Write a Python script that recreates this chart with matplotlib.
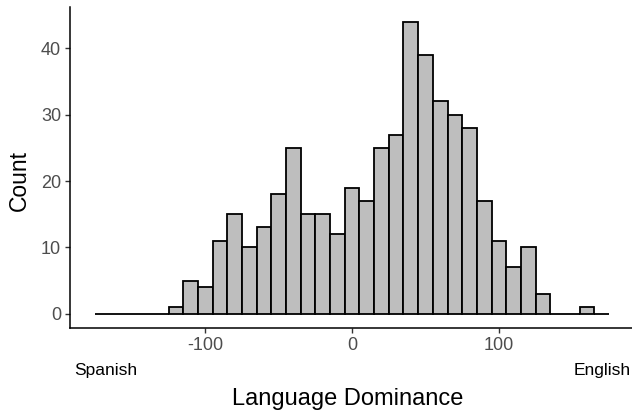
import matplotlib
matplotlib.use("Agg")
import matplotlib.pyplot as plt

plt.rcParams['font.family'] = ['Liberation Sans', 'DejaVu Sans']
plt.rcParams['axes.unicode_minus'] = False

# histogram bins (left edges, width 10) and counts
bin_left = [-175, -165, -155, -145, -135, -125, -115, -105, -95, -85,
            -75, -65, -55, -45, -35, -25, -15, -5, 5, 15,
            25, 35, 45, 55, 65, 75, 85, 95, 105, 115,
            125, 135, 145, 155, 165]
counts = [0, 0, 0, 0, 0, 1, 5, 4, 11, 15,
          10, 13, 18, 25, 15, 15, 12, 19, 17, 25,
          27, 44, 39, 32, 30, 28, 17, 11, 7, 10,
          3, 0, 0, 1, 0]
bin_width = 10
x_ticks = [-100, 0, 100]
y_ticks = [0, 10, 20, 30, 40]

W, H = 632, 415
fig = plt.figure(figsize=(W / 100, H / 100), dpi=100)
ax = fig.add_axes([69.5 / W, (H - 328.3) / H, (634.7 - 69.5) / W, (328.3 - 7.3) / H])

ax.bar(bin_left, counts, width=bin_width, align='edge',
       color='#BEBEBE', edgecolor='black', linewidth=1.3, zorder=2)

ax.set_xlim(-192.5, 192.5)
ax.set_ylim(-2.2, 46.2)
ax.set_xticks(x_ticks)
ax.set_yticks(y_ticks)

for s in ['top', 'right']:
    ax.spines[s].set_visible(False)
for s in ['left', 'bottom']:
    ax.spines[s].set_linewidth(1.1)
ax.tick_params(axis='both', length=3.5, width=1.0, color='#333333',
               labelsize=13, labelcolor='#4D4D4D', pad=2.5)

# axis titles and end labels
fig.text(347.5 / W, 1 - 405 / H, 'Language Dominance', fontsize=17,
         ha='center', va='baseline', color='black')
fig.text(19 / W, 1 - 180 / H, 'Count', fontsize=16.5, rotation=90,
         ha='center', va='center', color='black')
fig.text(74 / W, 1 - 375.5 / H, 'Spanish', fontsize=12.5,
         ha='left', va='baseline', color='black')
fig.text(574 / W, 1 - 375.5 / H, 'English', fontsize=12.5,
         ha='left', va='baseline', color='black')

fig.savefig('out.png', dpi=100)
